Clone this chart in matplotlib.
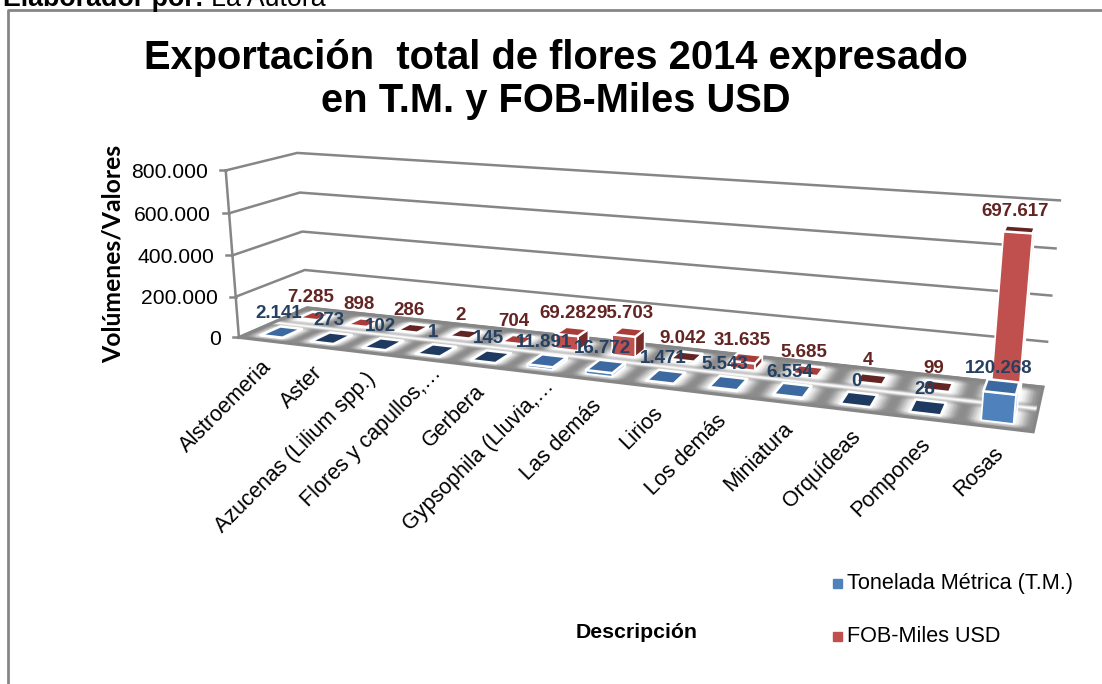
import matplotlib

matplotlib.use("Agg")
import matplotlib.pyplot as plt
import numpy as np

plt.rcParams["font.family"] = ["Liberation Sans", "DejaVu Sans"]

categories = [
    "Alstroemeria",
    "Aster",
    "Azucenas (Lilium spp.)",
    "Flores y capullos,…",
    "Gerbera",
    "Gypsophila (Lluvia,…",
    "Las demás",
    "Lirios",
    "Los demás",
    "Miniatura",
    "Orquídeas",
    "Pompones",
    "Rosas",
]
toneladas = [2141, 273, 102, 1, 145, 11891, 16772, 1471, 5543, 6554, 0, 28, 120268]
fob_miles = [7285, 898, 286, 2, 704, 69282, 95703, 9042, 31635, 5685, 4, 99, 697617]
y_ticks = [0, 200000, 400000, 600000, 800000]
y_max = 800000

BLUE = {
    "front": "#4f81bd", "side": "#b9cde5", "top": "#3c6aa0", "top_dark": "#1f3a60", "text": "#254061",
    "dark_tops": (1, 2, 3, 4, 10, 11), "half_w": 0.22, "half_d": 0.14, "label_dx": -3,
}
RED = {
    "front": "#c0504d", "side": "#772c2a", "top": "#a83c38", "top_dark": "#632523", "text": "#632523",
    "dark_tops": (2, 3, 7, 10, 11, 12), "half_w": 0.2, "half_d": 0.11, "label_dx": -4,
}
GRID = "#868686"

# (category axis, depth, value / y_max) -> pixel position, used to fit the chart's camera
CALIB_WORLD = np.array(
    [
        (0, 0, 0), (13, 0, 0), (0, 1, 0), (13, 1, 0),
        (0, 0, 0.25), (0, 0, 0.5), (0, 0, 0.75), (0, 0, 1),
        (0, 1, 0.25), (0, 1, 0.5), (0, 1, 0.75), (0, 1, 1),
        (13, 1, 0.25), (13, 1, 0.5), (13, 1, 0.75), (13, 1, 1),
    ],
    dtype=float,
)
CALIB_PIXEL = np.array(
    [
        (240, 338), (1033, 432), (307, 307), (1043, 387),
        (235, 297), (232, 255), (228, 213), (227, 170),
        (305, 270), (302, 232), (300, 193), (297, 153),
        (1047, 342), (1052, 295), (1055, 248), (1060, 201),
    ],
    dtype=float,
)


def fit_camera():
    rows, rhs = [], []
    for (u, v, h), (px, py) in zip(CALIB_WORLD, CALIB_PIXEL):
        rows.append([u, v, h, 1, 0, 0, 0, 0, -px * u, -px * v, -px * h])
        rows.append([0, 0, 0, 0, u, v, h, 1, -py * u, -py * v, -py * h])
        rhs += [px, py]
    p = np.linalg.lstsq(np.array(rows), np.array(rhs), rcond=None)[0]
    return np.append(p, 1).reshape(3, 4)


CAMERA = fit_camera()


def project(u, v, value):
    """Category position, depth (0 front, 1 back) and value to figure pixels."""
    u, v, value = np.broadcast_arrays(u, v, np.asarray(value, dtype=float))
    world = np.stack([u, v, value / y_max, np.ones_like(u, dtype=float)], axis=-1)
    out = world @ CAMERA.T
    return out[..., 0] / out[..., 2], out[..., 1] / out[..., 2]


def face(ax, corners, color, zorder, linewidth=1.2):
    xs, ys = zip(*[project(*c) for c in corners])
    ax.fill(xs, ys, facecolor=color, edgecolor="white", linewidth=linewidth, zorder=zorder, joinstyle="round")


def draw_bar(ax, i, depth, value, style, zorder):
    u0, u1 = i + 0.5 - style["half_w"], i + 0.5 + style["half_w"]
    v0, v1 = depth - style["half_d"], depth + style["half_d"]
    top_color = style["top_dark"] if i in style["dark_tops"] else style["top"]
    face(ax, [(u1, v0, 0), (u1, v1, 0), (u1, v1, value), (u1, v0, value)], style["side"], zorder)
    face(ax, [(u0, v0, 0), (u1, v0, 0), (u1, v0, value), (u0, v0, value)], style["front"], zorder + 0.1)
    face(ax, [(u0, v0, value), (u1, v0, value), (u1, v1, value), (u0, v1, value)], top_color, zorder + 0.2, 1.8)


def draw_floor(ax):
    # soft white glow around the bars, as the 3D floor has in the original
    uu, vv = np.meshgrid(np.linspace(0, 13, 261), np.linspace(0, 1, 61))
    dx = np.clip(np.abs(uu % 1 - 0.5) - 0.2, 0, None) / 0.28
    dy = np.clip(np.minimum(np.abs(vv - 0.25), np.abs(vv - 0.75)) - 0.1, 0, None) / 0.15
    shade = np.clip(np.hypot(dx, dy), 0, 1)
    shade = shade * shade * (3 - 2 * shade)
    band = np.exp(-(((vv - 0.5) / 0.05) ** 2))
    gray = 1 - 0.45 * shade * (1 - band)
    px, py = project(uu, vv, 0)
    ax.pcolormesh(px, py, gray, cmap="gray", vmin=0, vmax=1, shading="gouraud", zorder=1)
    xs, ys = project([0, 13, 13, 0, 0], [0, 0, 1, 1, 0], 0)
    ax.plot(xs, ys, color=GRID, linewidth=2.2, zorder=2, solid_joinstyle="miter")


def plot_export_chart():
    fig = plt.figure(figsize=(11.02, 6.84), dpi=100)
    ax = fig.add_axes([0, 0, 1, 1])
    ax.set_xlim(0, 1102)
    ax.set_ylim(684, 0)
    ax.axis("off")

    # sheet text and chart frame
    ax.plot([8, 8, 1102], [684, 10, 10], color="#868686", linewidth=2, zorder=0)
    ax.text(3, 6, "Elaborador por:", fontsize=19.3, fontweight="bold", va="baseline")
    ax.text(211, 6, "La Autora", fontsize=19.3, va="baseline")

    ax.text(556, 58, "Exportación  total de flores 2014 expresado", fontsize=28.7, fontweight="bold", ha="center", va="center")
    ax.text(556, 101, "en T.M. y FOB-Miles USD", fontsize=28.7, fontweight="bold", ha="center", va="center")

    # walls
    for tick in y_ticks:
        xs, ys = project([0, 0, 13], [0, 1, 1], tick)
        ax.plot(xs, ys, color=GRID, linewidth=1.8, zorder=0.5)
        x0, y0 = project(0, 0, tick)
        ax.plot([x0 - 6, x0], [y0, y0], color=GRID, linewidth=1.8, zorder=0.5)
        label = f"{tick:,}".replace(",", ".")
        ax.text(x0 - 18, y0 + 2, label, fontsize=15.2, ha="right", va="center")
    xs, ys = project([0, 0], [0, 0], [0, y_max])
    ax.plot(xs, ys, color=GRID, linewidth=1.8, zorder=0.5)

    draw_floor(ax)

    for i, value in enumerate(fob_miles):
        draw_bar(ax, i, 0.75, value, RED, 3 + i * 0.5)
    for i, value in enumerate(toneladas):
        draw_bar(ax, i, 0.25, value, BLUE, 20 + i * 0.5)

    # data labels
    for values, depth, style in ((fob_miles, 0.75, RED), (toneladas, 0.25, BLUE)):
        for i, value in enumerate(values):
            x, y = project(i + 0.5, depth, value)
            ax.text(
                x + style["label_dx"], y - 18, f"{value:,}".replace(",", "."),
                color=style["text"], fontsize=13.5, fontweight="bold", ha="center", va="center", zorder=40,
            )

    # category labels, the shortened ones reach further towards the floor
    for i, name in enumerate(categories):
        x, y = project(i + 0.5, 0, 0)
        shift = 12 if name.endswith("…") else 0
        ax.text(
            x + 5 + shift, y + 23 - shift, name,
            fontsize=15.5, rotation=45, rotation_mode="anchor", ha="right", va="center", zorder=40,
        )

    ax.text(113, 254, "Volúmenes/Valores", family=["Lato", "DejaVu Sans"], fontsize=17.8, fontweight="bold", rotation=90, ha="center", va="center")
    ax.text(637, 632, "Descripción", fontsize=15.3, fontweight="bold", ha="center", va="center")

    # legend
    ax.fill([833, 842, 842, 833], [579, 579, 588, 588], color=BLUE["front"])
    ax.text(847, 584, "Tonelada Métrica (T.M.)", fontsize=15.6, va="center")
    ax.fill([833, 842, 842, 833], [632, 632, 641, 641], color=RED["front"])
    ax.text(847, 636, "FOB-Miles USD", fontsize=15.6, va="center")

    fig.savefig("out.png", dpi=100)
    plt.close(fig)


if __name__ == "__main__":
    plot_export_chart()
